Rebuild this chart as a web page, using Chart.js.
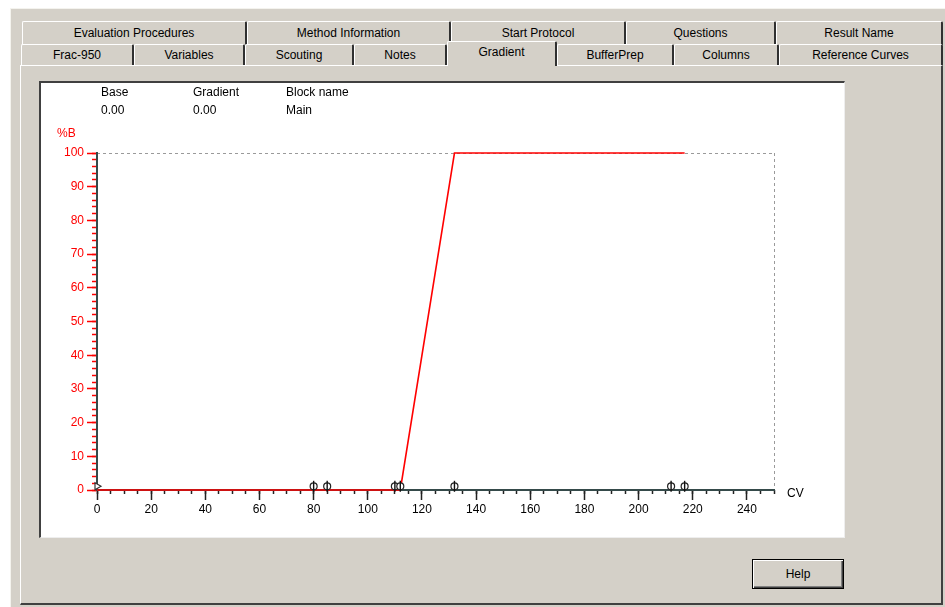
<!DOCTYPE html>
<html>
<head>
<meta charset="utf-8">
<script src="https://cdn.jsdelivr.net/npm/chart.js@4.4.1/dist/chart.umd.min.js"></script>
<style>
  html, body { margin:0; padding:0; }
  body { width:945px; height:607px; background:#fff; position:relative; overflow:hidden;
         font-family:'Liberation Sans', Arial, sans-serif; font-size:12px; color:#000; }
  .abs { position:absolute; }
  .win { left:10px; top:8px; width:935px; height:599px; background:#d4d0c8; box-sizing:border-box;
         border-left:1px solid #f4f3ee; border-top:1px solid #f4f3ee; z-index:0; }
  .page { left:20px; top:65px; width:923px; height:540px; box-sizing:border-box; background:#d4d0c8;
          border-left:1px solid #fff; border-top:1px solid #fff; border-right:2px solid #404040; border-bottom:2px solid #404040; z-index:1; }
  .tab { box-sizing:border-box; background:#d4d0c8; text-align:center; white-space:nowrap; z-index:1;
         border-left:1px solid #fff; border-top:1px solid #fff; border-right:2px solid #303030;
         border-top-left-radius:2px; border-top-right-radius:2px; }
  .tab.sel { z-index:6; }
  .box { left:39px; top:81px; width:806px; height:457px; background:#fff; box-sizing:border-box; z-index:2;
         border-top:2px solid #404040; border-left:2px solid #404040; border-right:1px solid #eeeeee; border-bottom:1px solid #eeeeee; }
  .help { left:752px; top:559px; width:92px; height:30px; box-sizing:border-box; border:1px solid #000; z-index:4;
          background:#d4d0c8; box-shadow: inset 1px 1px #fff, inset -1px -1px #404040, inset -2px -2px #808080;
          text-align:center; line-height:28px; font-size:12px; }
  .hdr { font-size:12px; line-height:14px; z-index:4; }
  .lbl { z-index:4; font-size:12px; }
  #chartCanvas { position:absolute; left:42px; top:83px; z-index:3; }
</style>
</head>
<body>
<div class="abs win"></div>
<div id="tabs"></div>
<div class="abs page"></div>
<div class="abs box"></div>
<canvas id="chartCanvas" width="803" height="454"></canvas>
<div id="hdr"></div>
<div class="abs lbl" style="left:57px;top:126px;color:#ff0000;">%B</div>
<div class="abs lbl" style="left:787px;top:486px;color:#000;">CV</div>
<div class="abs help">Help</div>

<script>
// ---- data ----
const gradientCV = [0, 112, 132, 217];
const gradientB  = [0, 0, 100, 100];
const markerCV    = [80, 85, 110, 112, 132, 212, 217];
const markerLevel = [1.1, 1.1, 1.1, 1.1, 1.1, 1.1, 1.1];
const startCV    = [0];
const startLevel = [1.1];
const xTickValues = [0, 20, 40, 60, 80, 100, 120, 140, 160, 180, 200, 220, 240];
const yTickValues = [0, 10, 20, 30, 40, 50, 60, 70, 80, 90, 100];
const xRange = [0, 250];
const yRange = [0, 100];
const xMinorStep = 5;
const yMinorStep = 2;

const headerLabels = ['Base', 'Gradient', 'Block name'];
const headerValues = ['0.00', '0.00', 'Main'];
const headerLeft = [101, 193, 286];

const tabsRow1 = ['Evaluation Procedures', 'Method Information', 'Start Protocol', 'Questions', 'Result Name'];
const tabsRow1Edges = [22, 247, 451, 626, 776, 943];
const tabsRow2 = ['Frac-950', 'Variables', 'Scouting', 'Notes', 'Gradient', 'BufferPrep', 'Columns', 'Reference Curves'];
const tabsRow2Edges = [21, 134, 245, 354, 447, 557, 674, 779, 943];
const selectedTab = 'Gradient';

// ---- UI chrome ----
const tabsEl = document.getElementById('tabs');
function addTab(name, l, r, top, h, sel, lh) {
  const d = document.createElement('div');
  d.className = 'abs tab' + (sel ? ' sel' : '');
  d.style.left = l + 'px'; d.style.width = (r - l) + 'px';
  d.style.top = top + 'px'; d.style.height = h + 'px';
  d.style.lineHeight = lh + 'px';
  d.textContent = name;
  tabsEl.appendChild(d);
}
tabsRow1.forEach((n, i) => addTab(n, tabsRow1Edges[i], tabsRow1Edges[i + 1], 21, 24, false, 22));
tabsRow2.forEach((n, i) => {
  if (n === selectedTab) addTab(n, tabsRow2Edges[i], tabsRow2Edges[i + 1], 41, 25, true, 20);
  else addTab(n, tabsRow2Edges[i], tabsRow2Edges[i + 1], 44, 22, false, 20);
});

const hdrEl = document.getElementById('hdr');
headerLabels.forEach((t, i) => {
  const a = document.createElement('div');
  a.className = 'abs hdr'; a.style.left = headerLeft[i] + 'px'; a.style.top = '85px'; a.textContent = t;
  hdrEl.appendChild(a);
  const b = document.createElement('div');
  b.className = 'abs hdr'; b.style.left = headerLeft[i] + 'px'; b.style.top = '103px'; b.textContent = headerValues[i];
  hdrEl.appendChild(b);
});

// ---- chart ----
const FONT = "'Liberation Sans', Arial, sans-serif";
const axisColor = '#354a4a';
const frameColor = '#9a9a9a';

const ctx = document.getElementById('chartCanvas').getContext('2d');
new Chart(ctx, {
  type: 'line',
  data: {
    datasets: [
      {
        label: '%B',
        data: gradientCV.map((x, i) => ({ x: x, y: gradientB[i] })),
        borderColor: '#ff0000',
        borderWidth: 1.6,
        pointRadius: 0,
        tension: 0,
        fill: false,
        clip: false,
        order: 1,
        xAxisID: 'x', yAxisID: 'y'
      },
      {
        type: 'scatter',
        label: 'blocks-ring',
        data: markerCV.map((x, i) => ({ x: x, y: markerLevel[i] })),
        pointStyle: 'circle',
        pointRadius: 3.5,
        borderColor: '#222',
        backgroundColor: '#fff',
        borderWidth: 1.2,
        clip: false,
        order: 0,
        xAxisID: 'x', yAxisID: 'y'
      },
      {
        type: 'scatter',
        label: 'blocks-bar',
        data: markerCV.map((x, i) => ({ x: x, y: markerLevel[i] })),
        pointStyle: 'line',
        rotation: 90,
        pointRadius: 5.5,
        borderColor: '#111',
        borderWidth: 1.4,
        clip: false,
        order: -1,
        xAxisID: 'x', yAxisID: 'y'
      },
      {
        type: 'scatter',
        label: 'start',
        data: startCV.map((x, i) => ({ x: x, y: startLevel[i] })),
        pointStyle: 'triangle',
        rotation: 90,
        pointRadius: 4,
        borderColor: '#333',
        backgroundColor: '#fff',
        borderWidth: 1.2,
        clip: false,
        order: -2,
        xAxisID: 'x', yAxisID: 'y'
      }
    ]
  },
  options: {
    responsive: false,
    animation: false,
    events: [],
    layout: { padding: { left: 0, top: 70, right: 71, bottom: 0 } },
    plugins: { legend: { display: false }, tooltip: { enabled: false } },
    scales: {
      x: {
        type: 'linear', position: 'bottom', weight: 1,
        min: xRange[0], max: xRange[1],
        afterBuildTicks: s => { s.ticks = xTickValues.map(v => ({ value: v })); },
        afterFit: s => { s.height = 47; },
        ticks: { color: '#000', font: { size: 12, family: FONT }, padding: 2, autoSkip: false, maxRotation: 0, callback: v => String(v) },
        grid: { display: true, drawOnChartArea: false, drawTicks: true, tickLength: 10, tickColor: '#222', tickWidth: 1.5 },
        border: { display: true, color: axisColor, width: 2 }
      },
      xMinor: {
        type: 'linear', position: 'bottom', weight: 0, display: true,
        min: xRange[0], max: xRange[1],
        afterFit: s => { s.height = 0; },
        ticks: { display: false, stepSize: xMinorStep, autoSkip: false },
        grid: { display: true, drawOnChartArea: false, drawTicks: true, tickLength: 4, tickColor: '#222', tickWidth: 1.5 },
        border: { display: false }
      },
      xFrame: {
        type: 'linear', position: 'top', display: true,
        min: xRange[0], max: xRange[1],
        afterBuildTicks: s => { s.ticks = [{ value: xRange[1] }]; },
        afterFit: s => { s.height = 0; },
        ticks: { display: false },
        grid: { display: true, drawOnChartArea: true, drawTicks: false, color: frameColor, lineWidth: 1 },
        border: { display: false, dash: [3, 3] }
      },
      y: {
        type: 'linear', position: 'left', weight: 1,
        min: yRange[0], max: yRange[1],
        afterBuildTicks: s => { s.ticks = yTickValues.map(v => ({ value: v })); },
        afterFit: s => { s.width = 55; },
        ticks: { color: '#ff0000', font: { size: 12, family: FONT }, padding: 3, autoSkip: false, callback: v => String(v) },
        grid: { display: true, drawOnChartArea: false, drawTicks: true, tickLength: 10, tickColor: '#ff0000', tickWidth: 1.5 },
        border: { display: true, color: axisColor, width: 2 }
      },
      yMinor: {
        type: 'linear', position: 'left', weight: 0, display: true,
        min: yRange[0], max: yRange[1],
        afterFit: s => { s.width = 0; },
        ticks: { display: false, stepSize: yMinorStep, autoSkip: false },
        grid: { display: true, drawOnChartArea: false, drawTicks: true, tickLength: 5, tickColor: '#ff0000', tickWidth: 1.5 },
        border: { display: false }
      },
      yFrame: {
        type: 'linear', position: 'right', display: true,
        min: yRange[0], max: yRange[1],
        afterBuildTicks: s => { s.ticks = [{ value: yRange[1] }]; },
        afterFit: s => { s.width = 0; },
        ticks: { display: false },
        grid: { display: true, drawOnChartArea: true, drawTicks: false, color: frameColor, lineWidth: 1 },
        border: { display: false, dash: [3, 3] }
      }
    }
  }
});
</script>
</body>
</html>
